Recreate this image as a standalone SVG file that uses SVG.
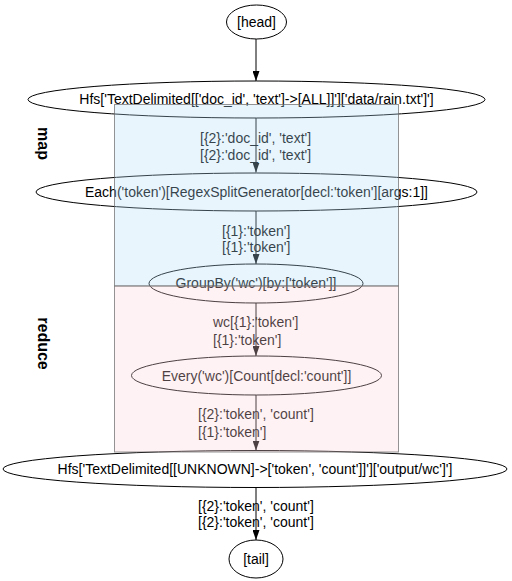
<svg xmlns="http://www.w3.org/2000/svg" width="512" height="581" viewBox="0 0 512 581">
<style>
.n ellipse{fill:none;stroke:#000;stroke-width:1}
text{font-family:"Liberation Sans",Arial,sans-serif;font-size:14px;fill:#000}
.n text{text-anchor:middle}
.e line{stroke:#000;stroke-width:1}
.cl{font-weight:bold;font-size:16px;text-anchor:middle}
.map{fill:rgb(180,222,248);fill-opacity:0.3;stroke:#666;stroke-opacity:0.7}
.red{fill:rgb(255,212,218);fill-opacity:0.3;stroke:#666;stroke-opacity:0.7}
</style>
<defs>
<marker id="ah" viewBox="0 0 10 7" refX="10" refY="3.5" markerWidth="10" markerHeight="7" markerUnits="userSpaceOnUse" orient="auto">
<path d="M0,0L10,3.5L0,7z" fill="#000"/>
</marker>
</defs>
<rect width="512" height="581" fill="#fff"/>
<g id="head" class="n"><ellipse cx="256.5" cy="22" rx="30" ry="17"/><text x="256.5" y="27">[head]</text></g>
<g id="hfs_in" class="n"><ellipse cx="256.5" cy="99.5" rx="228.5" ry="18.5"/><text x="256.5" y="104">Hfs['TextDelimited[['doc_id', 'text']-&gt;[ALL]]']['data/rain.txt']']</text></g>
<g id="each" class="n"><ellipse cx="256.5" cy="192" rx="220.5" ry="19"/><text x="256.5" y="197">Each('token')[RegexSplitGenerator[decl:'token'][args:1]]</text></g>
<g id="groupby" class="n"><ellipse cx="256" cy="283.5" rx="107" ry="19.5"/><text x="256" y="288">GroupBy('wc')[by:['token']]</text></g>
<g id="every" class="n"><ellipse cx="256.5" cy="375.5" rx="125" ry="19.5"/><text x="256.5" y="381">Every('wc')[Count[decl:'count']]</text></g>
<g id="hfs_out" class="n"><ellipse cx="255" cy="469" rx="252" ry="18.5"/><text x="255" y="474">Hfs['TextDelimited[[UNKNOWN]-&gt;['token', 'count']]']['output/wc']']</text></g>
<g id="tail" class="n"><ellipse cx="256" cy="559" rx="27" ry="19"/><text x="256" y="564">[tail]</text></g>
<g id="edges" class="e">
<line x1="256" y1="39" x2="256" y2="81" marker-end="url(#ah)"/>
<line x1="256" y1="118" x2="256" y2="172.5" marker-end="url(#ah)"/>
<text x="200" y="143">[{2}:'doc_id', 'text']</text>
<text x="200" y="160">[{2}:'doc_id', 'text']</text>
<line x1="256" y1="211" x2="256" y2="264" marker-end="url(#ah)"/>
<text x="222" y="236">[{1}:'token']</text>
<text x="222" y="252">[{1}:'token']</text>
<line x1="256" y1="303" x2="256" y2="356" marker-end="url(#ah)"/>
<text x="213" y="327">wc[{1}:'token']</text>
<text x="213" y="345">[{1}:'token']</text>
<line x1="256" y1="395" x2="256" y2="450.5" marker-end="url(#ah)"/>
<text x="198" y="419">[{2}:'token', 'count']</text>
<text x="198" y="437">[{1}:'token']</text>
<line x1="256" y1="487.5" x2="256" y2="540" marker-end="url(#ah)"/>
<text x="198" y="511">[{2}:'token', 'count']</text>
<text x="198" y="527">[{2}:'token', 'count']</text>
</g>
<g id="cluster_map">
<rect class="map" x="114.5" y="104.5" width="284" height="181.5"/>
<text class="cl" transform="translate(38,143.5) rotate(90)">map</text>
</g>
<g id="cluster_reduce">
<rect class="red" x="114.5" y="286" width="284" height="166"/>
<text class="cl" transform="translate(38,343.5) rotate(90)">reduce</text>
</g>
</svg>
